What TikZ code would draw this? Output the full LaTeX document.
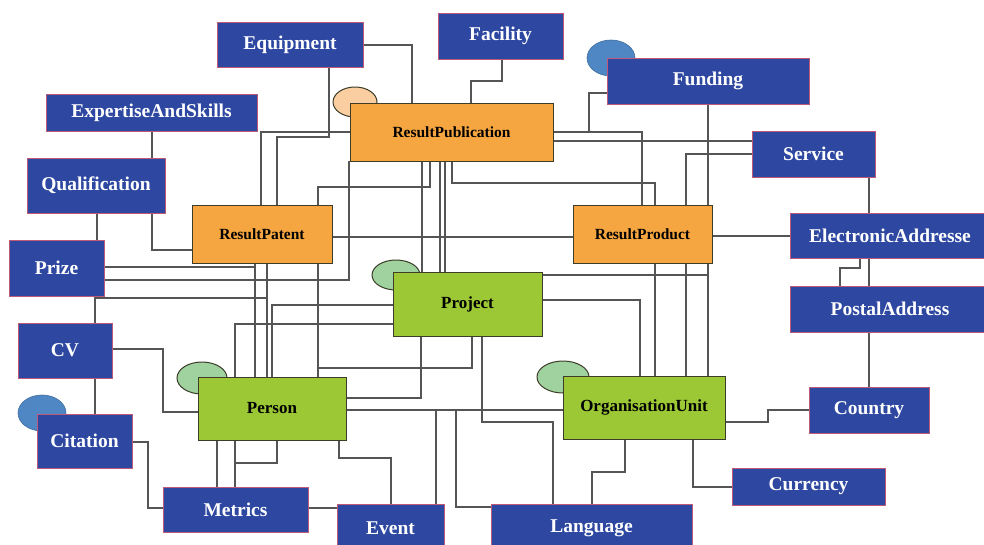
\documentclass[tikz,border=0pt]{standalone}
\usepackage{fontspec}
\setmainfont{Liberation Serif}
\usetikzlibrary{backgrounds}
\definecolor{boxblue}{RGB}{46,72,161}
\definecolor{blueedge}{RGB}{190,90,120}
\definecolor{boxorange}{RGB}{246,166,64}
\definecolor{boxgreen}{RGB}{155,200,52}
\definecolor{darkedge}{RGB}{60,60,40}
\definecolor{ellorange}{RGB}{250,206,160}
\definecolor{ellgreen}{RGB}{160,210,160}
\definecolor{ellblue}{RGB}{78,135,195}
\definecolor{linegray}{RGB}{85,85,85}
\tikzset{
  basebox/.style={rectangle, inner sep=0pt, outer sep=0pt},
  bluebox/.style={basebox, fill=boxblue, draw=blueedge, line width=0.8pt, text=white, font=\bfseries\fontsize{19.5}{22}\selectfont},
  orangebox/.style={basebox, fill=boxorange, draw=darkedge, line width=1pt, text=black, font=\bfseries\fontsize{15.5}{18}\selectfont},
  greenbox/.style={basebox, fill=boxgreen, draw=darkedge, line width=1pt, text=black, font=\bfseries\fontsize{17}{20}\selectfont},
  conn/.style={draw=linegray, line width=1.4pt},
  lightell/.style={draw=darkedge, line width=1pt},
  blueell/.style={fill=ellblue, draw=ellblue!80!black, line width=0.6pt},
}
\begin{document}
\begin{tikzpicture}[x=1pt,y=-1pt]
\useasboundingbox (0,0) rectangle (984,544);

% boxes
\node[bluebox, minimum width=146pt, minimum height=45pt] (equip) at (290,44.5) {Equipment};
\node[bluebox, minimum width=125pt, minimum height=46pt] (facil) at (500.5,36) {Facility};
\node[bluebox, minimum width=202pt, minimum height=46pt] (fund) at (708,81) {Funding};
\node[bluebox, minimum width=211pt, minimum height=37pt] (exp) at (151.5,112.5) {ExpertiseAndSkills};
\node[bluebox, minimum width=138pt, minimum height=55pt] (qual) at (96,185.5) {Qualification};
\node[orangebox, minimum width=140pt, minimum height=58pt] (rpat) at (262,234) {ResultPatent};
\node[bluebox, minimum width=95pt, minimum height=56pt] (prize) at (56.5,268) {Prize};
\node[orangebox, minimum width=203pt, minimum height=58pt] (rpub) at (451.5,132) {ResultPublication};
\node[bluebox, minimum width=123pt, minimum height=46pt] (serv) at (813.5,154) {Service};
\node[bluebox, minimum width=200pt, minimum height=45pt] (ea) at (890,235.5) {ElectronicAddresse};
\node[orangebox, minimum width=139pt, minimum height=58pt] (rprod) at (642.5,234) {ResultProduct};
\node[greenbox, minimum width=149pt, minimum height=64pt] (proj) at (467.5,304) {Project};
\node[greenbox, minimum width=148pt, minimum height=63pt] (person) at (272,408.5) {Person};
\node[greenbox, minimum width=162pt, minimum height=63pt] (org) at (644,407.5) {OrganisationUnit};
\node[bluebox, minimum width=200pt, minimum height=46pt] (postal) at (890,309) {PostalAddress};
\node[bluebox, minimum width=120pt, minimum height=46pt] (country) at (869,410) {Country};
\node[bluebox, minimum width=153pt, minimum height=37pt] (curr) at (808.5,486.5) {Currency};
\node[bluebox, minimum width=94pt, minimum height=55pt] (cv) at (65,350.5) {CV};
\node[bluebox, minimum width=95pt, minimum height=54pt] (cit) at (84.5,441) {Citation};
\node[bluebox, minimum width=145pt, minimum height=45pt] (metr) at (235.5,509.5) {Metrics};
\node[bluebox, minimum width=107pt, minimum height=48pt] (event) at (390.5,528) {Event};
\node[bluebox, minimum width=201pt, minimum height=48pt] (lang) at (591.5,528) {Language};

% white page, first thing on the background layer
\begin{scope}[on background layer]
\fill[white] (0,0) rectangle (984,544);
\end{scope}

% tag ellipses, behind everything
\begin{scope}[on background layer]
\draw[lightell, fill=ellorange] (355,102) ellipse [x radius=22, y radius=15];
\draw[blueell] (611,58) ellipse [x radius=24, y radius=18];
\draw[lightell, fill=ellgreen] (396,275) ellipse [x radius=24, y radius=15];
\draw[lightell, fill=ellgreen] (202,378) ellipse [x radius=25, y radius=16];
\draw[lightell, fill=ellgreen] (563,377) ellipse [x radius=26, y radius=16];
\draw[blueell] (42,413) ellipse [x radius=24, y radius=18];
\end{scope}

% connectors, behind the boxes
\begin{scope}[on background layer]
\draw[conn] (equip.east |- 0,45) -| (rpub.north -| 412,0);
\draw[conn] (facil.south -| 502,0) |- (471,81) -- (rpub.north -| 471,0);
\draw[conn] (rpub.east |- 0,132) -| (rprod.north -| 642,0);
\draw[conn] (fund.west |- 0,93) -| (589,132);
\draw[conn] (rpub.east |- 0,141) -- (serv.west |- 0,141);
\draw[conn] (serv.west |- 0,154) -| (org.north -| 686,0);
\draw[conn] (fund.south -| 708,0) -- (org.north -| 708,0);
\draw[conn] (proj.east |- 0,275) -- (708,275);
\draw[conn] (proj.east |- 0,300) -| (org.north -| 640,0);
\draw[conn] (rpub.south -| 452,0) |- (655,183) -- (org.north -| 655,0);
\draw[conn] (rprod.east |- 0,236) -- (ea.west |- 0,236);
\draw[conn] (serv.south -| 869,0) -- (ea.north -| 869,0);
\draw[conn] (ea.south -| 869,0) -- (postal.north -| 869,0);
\draw[conn] (ea.south -| 860,0) |- (840,268) -- (postal.north -| 840,0);
\draw[conn] (postal.south -| 869,0) -- (country.north -| 869,0);
\draw[conn] (org.east |- 0,422) -| (768,410) -- (country.west |- 0,410);
\draw[conn] (org.south -| 693,0) |- (curr.west |- 0,487);
\draw[conn] (org.south -| 625,0) |- (592,472) -- (lang.north -| 592,0);
\draw[conn] (proj.south -| 482,0) |- (553,422) -- (lang.north -| 553,0);
\draw[conn] (person.east |- 0,410) -- (org.west |- 0,410);
\draw[conn] (436,410) -- (event.north -| 436,0);
\draw[conn] (456,410) |- (lang.west |- 0,507);
\draw[conn] (proj.south -| 421,0) |- (person.east |- 0,398);
\draw[conn] (proj.south -| 472,0) |- (318,368);
\draw[conn] (person.south -| 339,0) |- (391,458) -- (event.north -| 391,0);
\draw[conn] (metr.east |- 0,508) -- (event.west |- 0,508);
\draw[conn] (person.south -| 217,0) -- (metr.north -| 217,0);
\draw[conn] (person.south -| 235,0) -- (metr.north -| 235,0);
\draw[conn] (person.south -| 277,0) |- (235,463);
\draw[conn] (cit.east |- 0,442) -| (148,508) -- (metr.west |- 0,508);
\draw[conn] (cv.east |- 0,349) -| (163,412) -- (person.west |- 0,412);
\draw[conn] (prize.south -| 95,0) -- (cv.north -| 95,0);
\draw[conn] (cv.south -| 95,0) -- (cit.north -| 95,0);
\draw[conn] (exp.south -| 152,0) -- (qual.north -| 152,0);
\draw[conn] (qual.south -| 97,0) -- (prize.north -| 97,0);
\draw[conn] (qual.south -| 152,0) |- (rpat.west |- 0,250);
\draw[conn] (equip.south -| 329,0) |- (277,137) -- (rpat.north -| 277,0);
\draw[conn] (rpub.west |- 0,132) -| (rpat.north -| 261,0);
\draw[conn] (rpub.south -| 349,0) |- (prize.east |- 0,280);
\draw[conn] (prize.east |- 0,267) -| (person.north -| 255,0);
\draw[conn] (rpat.south -| 255,0) -- (255,267);
\draw[conn] (rpat.south -| 267,0) -- (person.north -| 267,0);
\draw[conn] (95,298) -- (267,298);
\draw[conn] (person.north -| 272,0) |- (proj.west |- 0,305);
\draw[conn] (person.north -| 235,0) |- (proj.west |- 0,324);
\draw[conn] (rpub.south -| 430,0) |- (318,187) -- (rpat.north -| 318,0);
\draw[conn] (rpat.south -| 318,0) -- (person.north -| 318,0);
\draw[conn] (rpub.south -| 422,0) -- (proj.north -| 422,0);
\draw[conn] (rpub.south -| 440,0) -- (proj.north -| 440,0);
\draw[conn] (rpub.south -| 445,0) -- (proj.north -| 445,0);
\draw[conn] (rpat.east |- 0,237) -- (rprod.west |- 0,237);
\end{scope}
\end{tikzpicture}
\end{document}
